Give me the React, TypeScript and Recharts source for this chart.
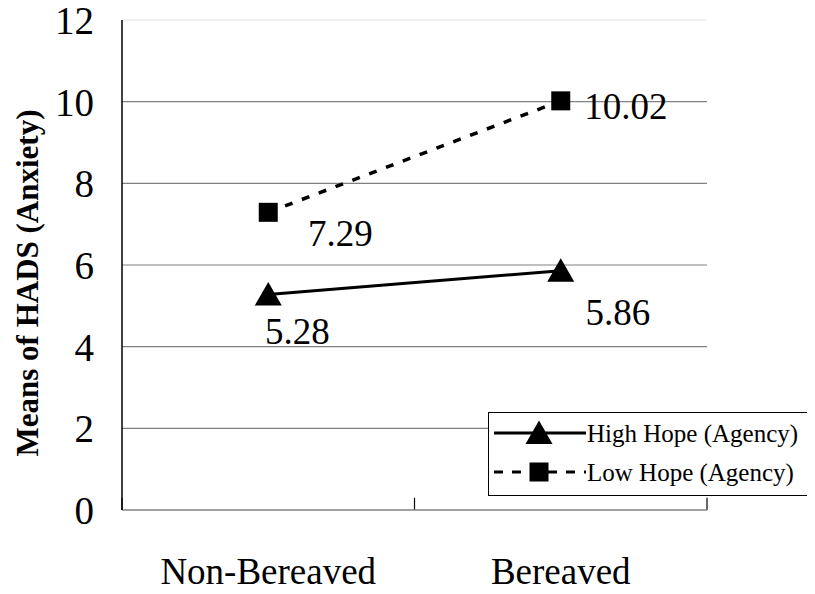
import React from 'react';
import {
  LineChart,
  Line,
  XAxis,
  YAxis,
  CartesianGrid,
  ReferenceLine,
  Label,
  LabelList,
} from 'recharts';

const categories = ['Non-Bereaved', 'Bereaved'];
const highHope = [5.28, 5.86];
const lowHope = [7.29, 10.02];
const yTicks = [0, 2, 4, 6, 8, 10, 12];
const gridValues = [2, 4, 6, 8, 10];
const seriesNames = ['High Hope (Agency)', 'Low Hope (Agency)'];

const SERIF = 'Liberation Serif, Times New Roman, serif';

// hand-placed value labels, offset from each marker
const HIGH_OFFSETS = [{ dx: 29, dy: 37 }, { dx: 57, dy: 42 }];
const LOW_OFFSETS = [{ dx: 72, dy: 21 }, { dx: 65, dy: 6 }];

const data = categories.map((group, i) => ({
  group,
  high: highHope[i],
  low: lowHope[i],
}));

function Triangle({ cx, cy }: { cx: number; cy: number }) {
  return (
    <polygon
      points={`${cx},${cy - 12.5} ${cx - 13.5},${cy + 11} ${cx + 13.5},${cy + 11}`}
      fill="#000"
    />
  );
}

function Square({ cx, cy }: { cx: number; cy: number }) {
  return <rect x={cx - 9.5} y={cy - 9.5} width={19} height={19} fill="#000" />;
}

const valueLabel = (offsets: { dx: number; dy: number }[]) => (props: any) => {
  const { x, y, value, index } = props;
  const o = offsets[index] ?? { dx: 0, dy: 0 };
  return (
    <text
      x={Number(x) + o.dx}
      y={Number(y) + o.dy}
      textAnchor="middle"
      dominantBaseline="central"
      fontSize={37}
      fontFamily={SERIF}
      fill="#000"
    >
      {Number(value).toFixed(2)}
    </text>
  );
};

function YTitle(props: any) {
  const vb = props.viewBox || { x: 0, y: 20, width: 122, height: 490 };
  const x = 27;
  const y = vb.y + vb.height / 2 + 18;
  return (
    <text
      x={x}
      y={y}
      transform={`rotate(-90 ${x} ${y})`}
      textAnchor="middle"
      dominantBaseline="central"
      fontSize={31}
      fontWeight="bold"
      fontFamily={SERIF}
      fill="#000"
    >
      Means of HADS (Anxiety)
    </text>
  );
}

function LegendBox() {
  return (
    <div
      style={{
        position: 'absolute',
        left: 488,
        top: 412,
        width: 325,
        height: 84,
        border: '1px solid #000',
        background: '#fff',
        boxSizing: 'border-box',
      }}
    >
      <svg width={323} height={82}>
        {seriesNames.map((name, i) => {
          const y = 20 + 39 * i;
          return (
            <g key={name}>
              <line
                x1={5}
                x2={97}
                y1={y}
                y2={y}
                stroke="#000"
                strokeWidth={3}
                strokeDasharray={i === 1 ? '9 9' : undefined}
              />
              {i === 0 ? <Triangle cx={50} cy={y} /> : <Square cx={50} cy={y} />}
              <text
                x={98}
                y={y}
                dominantBaseline="central"
                fontSize={25}
                fontFamily={SERIF}
                fill="#000"
              >
                {name}
              </text>
            </g>
          );
        })}
      </svg>
    </div>
  );
}

export default function App() {
  return (
    <div style={{ position: 'relative', width: 815, height: 594, margin: -8, background: '#fff' }}>
      <LineChart
        width={815}
        height={594}
        data={data}
        margin={{ top: 20, right: 108, bottom: 0, left: 0 }}
      >
        <CartesianGrid vertical={false} horizontalValues={gridValues} stroke="#808080" strokeWidth={1.2} />
        <ReferenceLine y={12} stroke="#e4e4e4" strokeWidth={1.2} />
        <XAxis
          dataKey="group"
          scale="band"
          height={84}
          axisLine={{ stroke: '#808080', strokeWidth: 1.5 }}
          tickLine={false}
          tickMargin={42}
          tick={{ fontSize: 37, fontFamily: SERIF, fill: '#000' }}
        />
        <YAxis
          width={122}
          domain={[0, 12]}
          ticks={yTicks}
          interval={0}
          axisLine={{ stroke: '#000', strokeWidth: 1.5 }}
          tickLine={false}
          tickMargin={22}
          tick={{ fontSize: 39, fontFamily: SERIF, fill: '#000' }}
        >
          <Label content={<YTitle />} />
        </YAxis>
        {/* inward tick marks on the value axis */}
        <YAxis
          yAxisId="inner"
          mirror
          width={0}
          domain={[0, 12]}
          ticks={yTicks}
          interval={0}
          axisLine={false}
          tick={false}
          tickSize={13}
          tickLine={{ stroke: '#404040', strokeWidth: 1.5 }}
        />
        {categories.map((c) => (
          <ReferenceLine
            key={c}
            segment={[{ x: c, y: 0 }, { x: c, y: 0.3 }]}
            position="start"
            stroke="#000"
            strokeWidth={1.2}
          />
        ))}
        <ReferenceLine
          segment={[
            { x: categories[categories.length - 1], y: 0 },
            { x: categories[categories.length - 1], y: 0.3 },
          ]}
          position="end"
          stroke="#000"
          strokeWidth={1.2}
        />
        <Line
          dataKey="high"
          stroke="#000"
          strokeWidth={3}
          dot={(p: any) => <Triangle key={p.index} cx={p.cx} cy={p.cy} />}
          activeDot={false}
          isAnimationActive={false}
        >
          <LabelList dataKey="high" content={valueLabel(HIGH_OFFSETS)} />
        </Line>
        <Line
          dataKey="low"
          stroke="#000"
          strokeWidth={3.5}
          strokeDasharray="8 10"
          dot={(p: any) => <Square key={p.index} cx={p.cx} cy={p.cy} />}
          activeDot={false}
          isAnimationActive={false}
        >
          <LabelList dataKey="low" content={valueLabel(LOW_OFFSETS)} />
        </Line>
      </LineChart>
      <LegendBox />
    </div>
  );
}
